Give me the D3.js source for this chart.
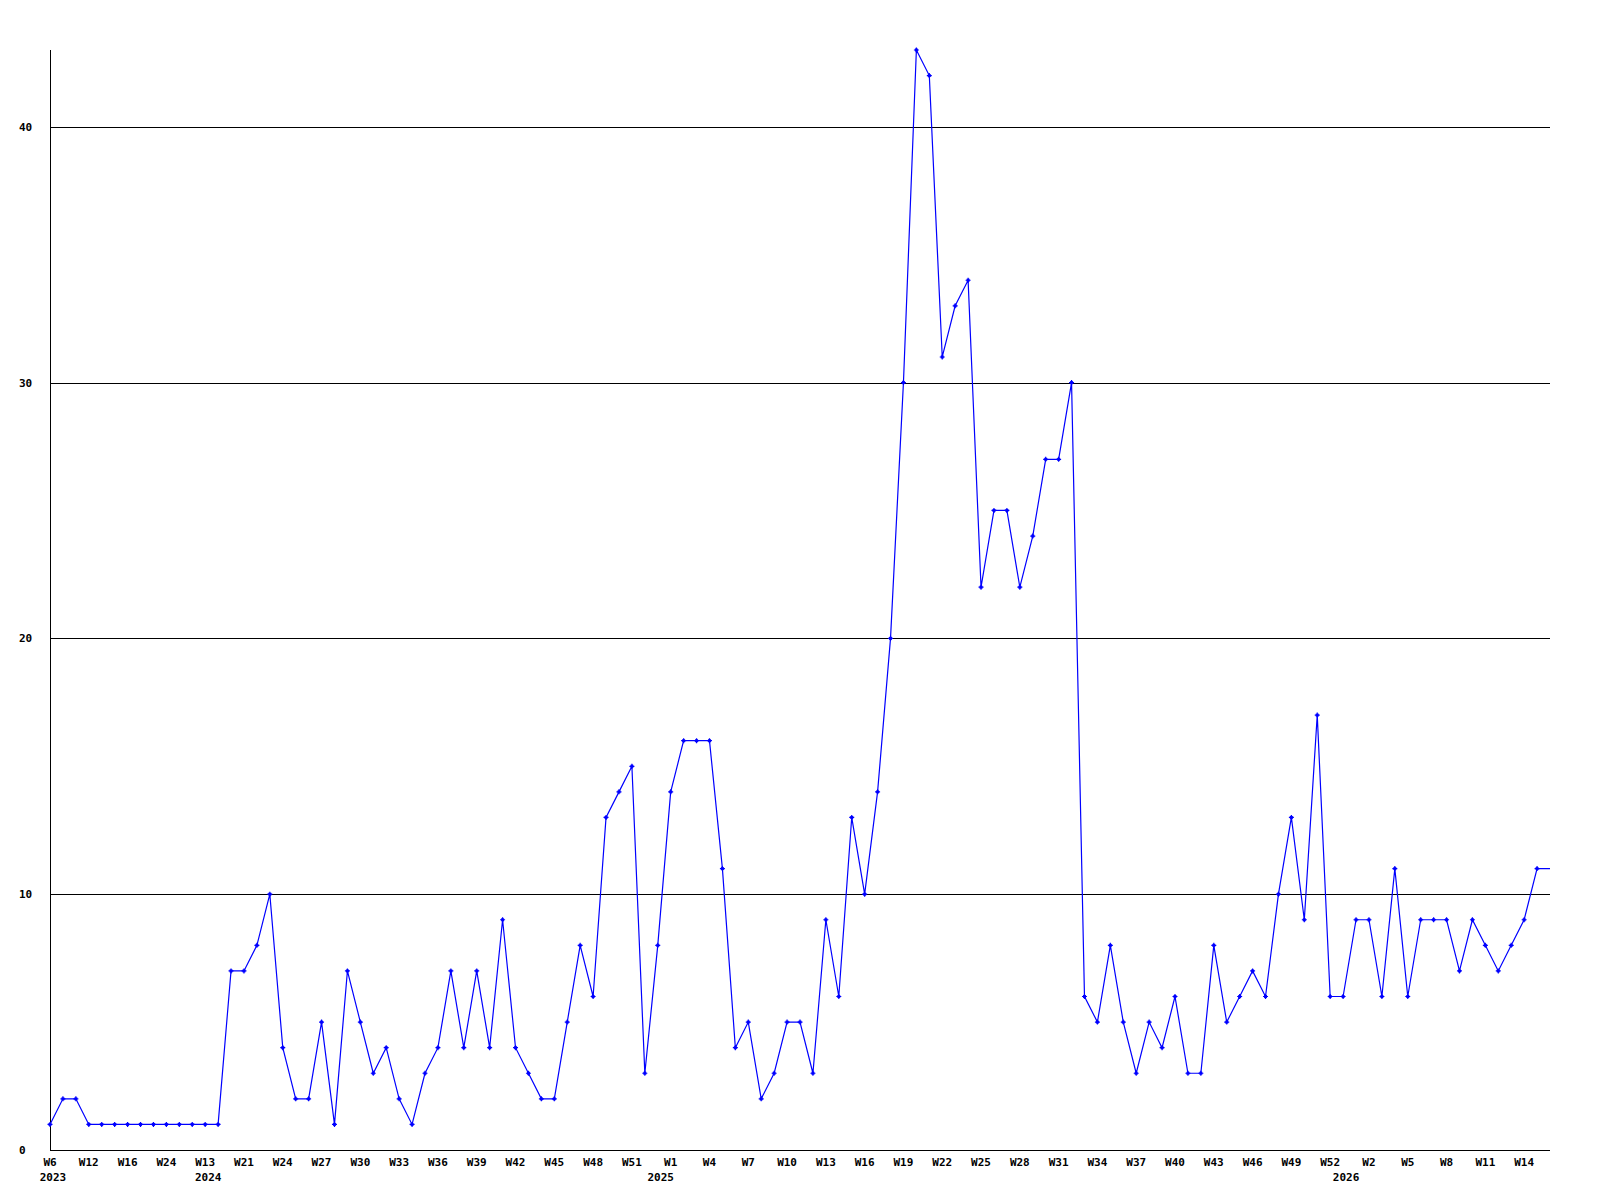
<!DOCTYPE html>
<html>
<head>
<meta charset="utf-8">
<script src="https://cdn.jsdelivr.net/npm/d3@7"></script>
<style>
  body { margin: 0; background: #fff; }
  text { font-family: "DejaVu Sans Mono", monospace; font-weight: bold; font-size: 11px; fill: #000; }
</style>
</head>
<body>
<div id="chart"></div>
<script>
// weekly counts, one per point (last point is the running week, drawn without marker)
var values = [
  1, 2, 2, 1, 1, 1, 1, 1, 1, 1, 1, 1, 1, 1,
  7, 7, 8, 10, 4, 2, 2, 5, 1, 7, 5, 3, 4, 2, 1, 3, 4, 7, 4, 7, 4, 9, 4, 3, 2, 2, 5, 8, 6,
  13, 14, 15, 3, 8, 14, 16, 16, 16, 11, 4, 5, 2, 3, 5, 5, 3, 9, 6, 13, 10, 14, 20, 30,
  43, 42, 31, 33, 34, 22, 25, 25, 22, 24, 27, 27, 30,
  6, 5, 8, 5, 3, 5, 4, 6, 3, 3, 8, 5, 6, 7, 6, 10, 13, 9, 17, 6, 6, 9, 9, 6, 11,
  6, 9, 9, 9, 7, 9, 8, 7, 8, 9, 11, 11
];

// x tick labels, one every 3 points
var tickWeeks = ['W6', 'W12', 'W16', 'W24', 'W13', 'W21', 'W24', 'W27', 'W30', 'W33', 'W36', 'W39', 'W42',
  'W45', 'W48', 'W51', 'W1', 'W4', 'W7', 'W10', 'W13', 'W16', 'W19', 'W22', 'W25', 'W28', 'W31',
  'W34', 'W37', 'W40', 'W43', 'W46', 'W49', 'W52', 'W2', 'W5', 'W8', 'W11', 'W14'];
var tickStep = 3;

// year labels and the point where each year starts
var years = ['2023', '2024', '2025', '2026'];
var yearStart = [0, 12, 47, 100];

var yTicks = [0, 10, 20, 30, 40];

var width = 1600;
var height = 1200;
var plotLeft = 50, plotRight = 1550, plotTop = 50, plotBottom = 1150;

var svg = d3.select('#chart')
  .append('svg')
  .attr('width', width)
  .attr('height', height);

var x = d3.scaleLinear()
  .domain([0, values.length - 1])
  .range([plotLeft, plotRight]);

var y = d3.scaleLinear()
  .domain([0, d3.max(values)])
  .range([plotBottom, plotTop]);

// horizontal grid lines
svg.selectAll('.grid')
  .data(yTicks.filter(function(d) { return d > 0; }))
  .enter()
  .append('line')
  .attr('class', 'grid')
  .attr('x1', plotLeft)
  .attr('x2', plotRight)
  .attr('y1', function(d) { return Math.round(y(d)) + 0.5; })
  .attr('y2', function(d) { return Math.round(y(d)) + 0.5; })
  .attr('stroke', '#000')
  .attr('stroke-width', 1);

// y labels, left aligned
svg.selectAll('.ylab')
  .data(yTicks)
  .enter()
  .append('text')
  .attr('class', 'ylab')
  .attr('x', 19)
  .attr('y', function(d) { return Math.round(y(d)) + 4; })
  .text(function(d) { return d; });

// axes
svg.append('line')
  .attr('x1', plotLeft + 0.5).attr('x2', plotLeft + 0.5)
  .attr('y1', plotTop).attr('y2', plotBottom)
  .attr('stroke', '#000');
svg.append('line')
  .attr('x1', plotLeft).attr('x2', plotRight)
  .attr('y1', plotBottom + 0.5).attr('y2', plotBottom + 0.5)
  .attr('stroke', '#000');

// x labels
svg.selectAll('.xweek')
  .data(tickWeeks)
  .enter()
  .append('text')
  .attr('class', 'xweek')
  .attr('x', function(d, i) { return x(i * tickStep); })
  .attr('y', 1166)
  .attr('text-anchor', 'middle')
  .text(function(d) { return d; });

svg.selectAll('.xyear')
  .data(years)
  .enter()
  .append('text')
  .attr('class', 'xyear')
  .attr('x', function(d, i) { return x(yearStart[i]) + 3; })
  .attr('y', 1181)
  .attr('text-anchor', 'middle')
  .text(function(d) { return d; });

// the line
var line = d3.line()
  .x(function(d, i) { return x(i); })
  .y(function(d) { return y(d); });

svg.append('path')
  .datum(values)
  .attr('d', line)
  .attr('fill', 'none')
  .attr('stroke', '#0000ff')
  .attr('stroke-width', 1.2);

// small cross markers
var marks = svg.selectAll('.mark')
  .data(values.slice(0, values.length - 1))
  .enter()
  .append('g')
  .attr('class', 'mark')
  .attr('transform', function(d, i) { return 'translate(' + x(i) + ',' + y(d) + ')'; });

marks.append('path')
  .attr('d', 'M-2.5,0H2.5M0,-2.5V2.5')
  .attr('stroke', '#0000ff')
  .attr('stroke-width', 1.2);
marks.append('rect')
  .attr('x', -1.5).attr('y', -1.5)
  .attr('width', 3).attr('height', 3)
  .attr('fill', '#0000ff');
</script>
</body>
</html>
